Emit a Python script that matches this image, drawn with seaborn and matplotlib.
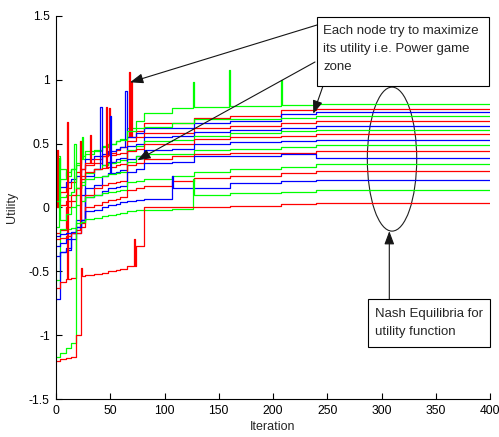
import numpy as np
import pandas as pd
import matplotlib
matplotlib.use("Agg")
import matplotlib.pyplot as plt
from matplotlib.patches import Ellipse, Rectangle
import seaborn as sns

# ---------------- data ----------------
iterations = [0, 4, 9, 14, 18, 23, 27, 35, 42, 48, 55, 59, 65, 74, 81, 107, 127, 160, 207, 240, 400]

nodes = [f"N{i}" for i in range(1, 18)]
node_colors = ["#00ff00", "#ff0000", "#0000ff"] * 5 + ["#00ff00", "#ff0000"]

u01 = [0.20, 0.22, 0.28, 0.30, 0.33, 0.38, 0.42, 0.44, 0.47, 0.50, 0.52, 0.54, 0.62, 0.68, 0.74, 0.78, 0.79, 0.795, 0.80, 0.807, 0.807]
u02 = [-0.20, -0.18, 0.00, 0.05, 0.15, 0.25, 0.33, 0.35, 0.40, 0.43, 0.45, 0.47, 0.55, 0.60, 0.66, 0.66, 0.70, 0.72, 0.76, 0.773, 0.773]
u03 = [0.15, 0.16, 0.20, 0.22, 0.25, 0.30, 0.38, 0.40, 0.42, 0.44, 0.46, 0.47, 0.55, 0.58, 0.62, 0.62, 0.66, 0.68, 0.73, 0.745, 0.745]
u04 = [0.40, 0.30, 0.25, 0.30, 0.35, 0.40, 0.44, 0.45, 0.48, 0.50, 0.52, 0.53, 0.60, 0.62, 0.63, 0.66, 0.69, 0.69, 0.70, 0.713, 0.713]
u05 = [0.10, 0.12, 0.15, 0.20, 0.28, 0.30, 0.35, 0.38, 0.40, 0.41, 0.42, 0.43, 0.52, 0.55, 0.58, 0.58, 0.62, 0.64, 0.66, 0.677, 0.677]
u06 = [-0.38, -0.35, -0.33, -0.20, -0.10, 0.10, 0.25, 0.30, 0.33, 0.36, 0.38, 0.39, 0.48, 0.50, 0.55, 0.56, 0.59, 0.61, 0.625, 0.64, 0.64]
u07 = [-0.57, -0.17, -0.17, -0.16, 0.10, 0.20, 0.27, 0.30, 0.33, 0.35, 0.36, 0.37, 0.45, 0.48, 0.52, 0.53, 0.56, 0.58, 0.60, 0.607, 0.607]
u08 = [0.00, 0.02, 0.05, 0.10, 0.15, 0.22, 0.28, 0.30, 0.31, 0.32, 0.33, 0.34, 0.44, 0.46, 0.50, 0.50, 0.54, 0.55, 0.56, 0.576, 0.576]
u09 = [-0.72, -0.35, -0.32, -0.25, -0.20, -0.10, 0.15, 0.18, 0.25, 0.27, 0.28, 0.29, 0.38, 0.40, 0.45, 0.46, 0.50, 0.51, 0.52, 0.526, 0.526]
u10 = [0.05, 0.08, 0.10, 0.12, 0.15, 0.18, 0.22, 0.24, 0.25, 0.26, 0.27, 0.28, 0.36, 0.40, 0.42, 0.42, 0.45, 0.46, 0.47, 0.487, 0.487]
u11 = [-0.63, -0.58, -0.56, -0.55, -0.20, -0.15, 0.10, 0.15, 0.18, 0.19, 0.20, 0.21, 0.33, 0.35, 0.38, 0.40, 0.42, 0.43, 0.43, 0.44, 0.44]
u12 = [-0.30, -0.28, -0.25, -0.20, -0.15, -0.10, 0.08, 0.10, 0.13, 0.15, 0.16, 0.17, 0.28, 0.30, 0.35, 0.36, 0.40, 0.40, 0.42, 0.388, 0.388]
u13 = [-0.15, -0.10, -0.05, 0.00, 0.02, 0.05, 0.08, 0.10, 0.11, 0.12, 0.13, 0.14, 0.20, 0.21, 0.22, 0.25, 0.28, 0.30, 0.32, 0.341, 0.341]
u14 = [-0.25, -0.24, -0.22, -0.20, -0.18, -0.12, 0.00, 0.02, 0.04, 0.06, 0.07, 0.08, 0.14, 0.15, 0.17, 0.205, 0.23, 0.25, 0.27, 0.284, 0.284]
u15 = [-0.22, -0.21, -0.20, -0.19, -0.15, -0.10, -0.03, -0.02, 0.00, 0.02, 0.03, 0.04, 0.05, 0.06, 0.07, 0.155, 0.155, 0.195, 0.21, 0.216, 0.216]
u16 = [-1.17, -1.14, -1.10, -1.06, -0.12, -0.11, -0.09, -0.08, -0.07, -0.06, -0.05, -0.04, -0.03, -0.02, -0.02, -0.01, 0.095, 0.11, 0.125, 0.135, 0.135]
u17 = [-1.20, -1.19, -1.18, -1.17, -1.00, -0.54, -0.53, -0.52, -0.51, -0.50, -0.49, -0.48, -0.46, -0.30, 0.00, 0.00, 0.005, 0.015, 0.025, 0.034, 0.034]
utilities = [u01, u02, u03, u04, u05, u06, u07, u08, u09, u10, u11, u12, u13, u14, u15, u16, u17]

# one-iteration spikes: node number, iteration, peak value
spike_node = [2, 2, 3, 6, 8, 5, 9, 11, 13, 10, 1, 14, 5, 1, 1, 1, 17, 17, 15, 16, 8]
spike_iter = [67, 69, 64, 41, 46, 49, 50, 10, 3, 17, 24, 22, 31, 126, 159, 207, 23, 72, 107, 126, 1]
spike_value = [1.06, 0.98, 0.91, 0.79, 0.79, 0.78, 0.72, 0.67, 0.39, 0.50, 0.55, 0.52, 0.57,
               0.98, 1.08, 1.00, -0.47, -0.25, 0.25, 0.22, 0.45]

x_ticks = [0, 50, 100, 150, 200, 250, 300, 350, 400]
y_ticks = [-1.5, -1, -0.5, 0, 0.5, 1, 1.5]
y_tick_labels = ["-1.5", "-1", "-0.5", "0", "0.5", "1", "1.5"]

# ---------------- build long table ----------------
rows = []
for k, (node, vals) in enumerate(zip(nodes, utilities)):
    pts = dict(zip(iterations, vals))
    for n, it, v in zip(spike_node, spike_iter, spike_value):
        if n == k + 1:
            idx = np.searchsorted(iterations, it, side="right") - 1
            base = vals[idx]
            pts[it] = v
            if it + 1 not in pts:
                pts[it + 1] = base
    for it in sorted(pts):
        rows.append({"Iteration": it, "Utility": pts[it], "node": node})
df = pd.DataFrame(rows)

# ---------------- plot ----------------
sns.set_style("white")
plt.rcParams["font.family"] = ["Liberation Sans", "DejaVu Sans"]
plt.rcParams["axes.unicode_minus"] = False

W, H = 499, 437
fig = plt.figure(figsize=(W / 100, H / 100), dpi=100)
ax = fig.add_axes([56 / W, 1 - 399 / H, 434 / W, 383 / H])

sns.lineplot(data=df, x="Iteration", y="Utility", hue="node", hue_order=nodes,
             palette=dict(zip(nodes, node_colors)), estimator=None,
             drawstyle="steps-post", linewidth=0.9, legend=False, ax=ax)

ax.set_xlim(0, 400)
ax.set_ylim(-1.5, 1.5)
ax.set_xticks(x_ticks)
ax.set_xticklabels([str(t) for t in x_ticks])
ax.set_yticks(y_ticks)
ax.set_yticklabels(y_tick_labels)
ax.tick_params(direction="in", length=4, width=0.8, colors="black",
               labelsize=8.7, pad=4.5, bottom=True, left=True)
for s in ["top", "right"]:
    ax.spines[s].set_visible(False)
for s in ["left", "bottom"]:
    ax.spines[s].set_color("black")
    ax.spines[s].set_linewidth(0.8)

ax.set_xlabel("Iteration", fontsize=9)
ax.set_ylabel("Utility", fontsize=9)
ax.xaxis.set_label_coords(0.5, -0.057)
ax.yaxis.set_label_coords(-0.087, 0.5)


def fpx(px, py):
    return (px / W, 1 - py / H)


def dpx(px, py):
    return ((px - 56) / 1.085, (208 - py) / 128)


# ellipse around equilibria
ax.add_patch(Ellipse((309.7, 0.379), 45.5, 1.128, fill=False, ec="#202020", lw=0.8))

# text boxes
fig.add_artist(Rectangle(fpx(317, 86), 172 / W, 69 / H, transform=fig.transFigure,
                         fc="white", ec="black", lw=0.8, zorder=5))
for txt, py in [("Each node try to maximize", 31), ("its utility i.e. Power game", 49),
                ("zone", 67)]:
    fig.text(*fpx(323, py), txt, ha="left", va="center", fontsize=9.5, zorder=6)

fig.add_artist(Rectangle(fpx(368, 347), 122 / W, 48 / H, transform=fig.transFigure,
                         fc="white", ec="black", lw=0.8, zorder=5))
for txt, py in [("Nash Equilibria for", 314), ("utility function", 332)]:
    fig.text(*fpx(375, py), txt, ha="left", va="center", fontsize=9.5, zorder=6)

arrow_kw = dict(arrowstyle="-|>,head_length=0.8,head_width=0.3", color="#151515", lw=0.8,
                mutation_scale=10, shrinkA=0, shrinkB=0)
for start, tip in [((317, 25), (130, 82.5)), ((315, 62), (137.3, 160.7)),
                   ((323, 86), (313.3, 114)), ((389.3, 299), (389.3, 231.7))]:
    ax.annotate("", xy=dpx(*tip), xycoords="data", xytext=fpx(*start),
                textcoords="figure fraction", arrowprops=arrow_kw, annotation_clip=False)

fig.savefig("out.png", dpi=100, facecolor="white")
